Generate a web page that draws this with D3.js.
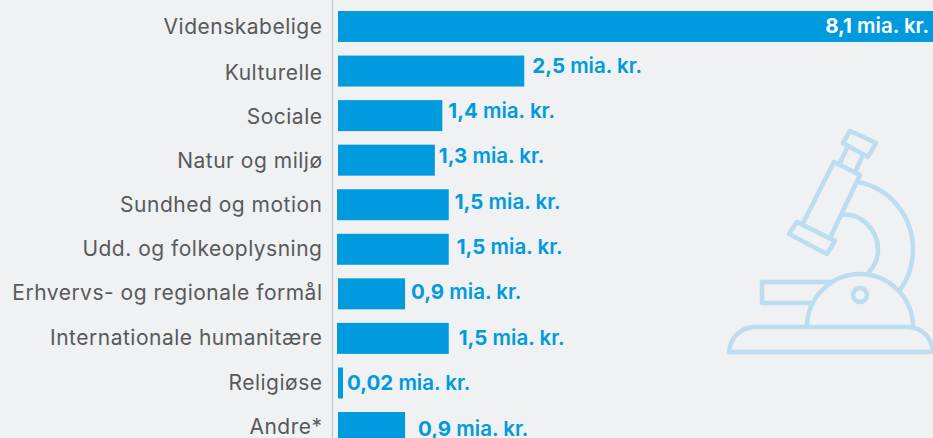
<!DOCTYPE html>
<html>
<head>
<meta charset="utf-8">
<script src="https://cdn.jsdelivr.net/npm/d3@7"></script>
<style>
  html, body { margin: 0; padding: 0; background: #eff1f3; overflow: hidden; }
  text { font-family: "Inter", sans-serif; }
</style>
</head>
<body>
<div id="chart"></div>
<script>
const categories = ["Videnskabelige", "Kulturelle", "Sociale", "Natur og miljø", "Sundhed og motion",
  "Udd. og folkeoplysning", "Erhvervs- og regionale formål", "Internationale humanitære", "Religiøse", "Andre*"];
const values = [8.1, 2.5, 1.4, 1.3, 1.5, 1.5, 0.9, 1.5, 0.02, 0.9];
const valueLabels = ["8,1", "2,5", "1,4", "1,3", "1,5", "1,5", "0,9", "1,5", "0,02", "0,9"];
const unit = "mia. kr.";

// the original is placed by hand: bars and labels wander a little from row to row
const barNudge = [0, 0, 0, 0, -1, -1, 0, -1, 0, 0];
const labelGap = [0, 8, 6, 4, 6, 8, 6, 10, 4, 13];
const labelDy = [0, -5.5, -5, -4.5, -2.5, -2.5, -1.5, 0, 0.5, 1];
const catDy = [1.5, 2, 1.5, 1, 0.5, 0, -0.5, 0, 1, 0];

const width = 933, height = 438;
const barLeft = 338, blue = "#009ade", iconColor = "#bcdcf0";
const minBar = 5;

const svg = d3.select("#chart").append("svg")
  .attr("width", width)
  .attr("height", height)
  .style("display", "block");

const x = d3.scaleLinear().domain([0, 1]).range([0, 74.5]);
const y = d3.scaleBand().domain(categories).range([11, 443]).paddingInner(0.305);

// microscope icon
const icon = svg.append("g")
  .attr("fill", "none")
  .attr("stroke", iconColor)
  .attr("stroke-width", 4.5)
  .attr("stroke-linejoin", "round");
icon.append("path").attr("d", "M729 352 C730 338 741 327 755 327 L908 327 C922 327 932 338 933 352 Z");
icon.append("path").attr("d", "M807 327 C807 297 832 274 860 274 C888 274 913 297 913 327");
icon.append("path").attr("d", "M833 282 L762 282 L762 303 L814 303");
icon.append("circle").attr("cx", 860).attr("cy", 295).attr("r", 7);
icon.append("path").attr("d", "M803 223 L834 162 L860 175 L830 238");
icon.append("path").attr("d", "M797 222 L835 241 L827 254 L789 234 Z");
icon.append("path").attr("d", "M840 163 L847 148 M855 172 L863 155");
icon.append("path").attr("d", "M850 131 L876 143 L868 157 L843 143 Z");
icon.append("path").attr("d", "M858 182 C890 188 913 216 913 250 C913 265 908 279 900 290");
icon.append("path").attr("d", "M840 215 C860 212 878 229 878 250 C878 259 874 267 868 273");

// axis line
svg.append("line")
  .attr("x1", 332.5).attr("x2", 332.5)
  .attr("y1", 0).attr("y2", height)
  .attr("stroke", "#c9cbcd")
  .attr("stroke-width", 1.5);

svg.selectAll(".bar")
  .data(values)
  .join("rect")
  .attr("class", "bar")
  .attr("x", (d, i) => barLeft + barNudge[i])
  .attr("y", (d, i) => y(categories[i]))
  .attr("width", d => Math.max(x(d), minBar))
  .attr("height", y.bandwidth())
  .attr("fill", blue);

svg.selectAll(".cat")
  .data(categories)
  .join("text")
  .attr("class", "cat")
  .attr("x", 322.5)
  .attr("y", (d, i) => y(d) + y.bandwidth() / 2 + 6.5 + catDy[i])
  .attr("text-anchor", "end")
  .attr("font-size", 21)
  .attr("letter-spacing", 0.5)
  .attr("fill", "#58595b")
  .text(d => d);

const vals = svg.selectAll(".val")
  .data(values)
  .join("text")
  .attr("class", "val")
  .attr("x", (d, i) => i === 0 ? 929 : barLeft + barNudge[i] + Math.max(x(d), minBar) + labelGap[i])
  .attr("y", (d, i) => y(categories[i]) + y.bandwidth() / 2 + 7 + labelDy[i])
  .attr("text-anchor", (d, i) => i === 0 ? "end" : "start")
  .attr("font-size", 20.5)
  .attr("font-weight", 600)
  .attr("fill", (d, i) => i === 0 ? "#ffffff" : blue);
vals.append("tspan").attr("font-weight", 700).text((d, i) => valueLabels[i]);
vals.append("tspan").text(" " + unit);
</script>
</body>
</html>
